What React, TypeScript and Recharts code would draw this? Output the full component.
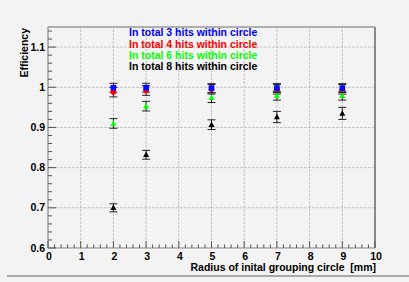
import React from 'react';
import { ScatterChart, Scatter, XAxis, YAxis, ErrorBar, ReferenceLine, Legend } from 'recharts';

// ---- data ----
const radii = [2, 3, 5, 7, 9];
const eff3 = [0.999, 0.999, 0.998, 0.998, 0.998];
const err3 = [0.011, 0.011, 0.011, 0.011, 0.011];
const eff4 = [0.988, 0.992, 0.995, 0.995, 0.995];
const err4 = [0.012, 0.012, 0.012, 0.012, 0.012];
const eff6 = [0.91, 0.953, 0.974, 0.979, 0.979];
const err6 = [0.012, 0.012, 0.012, 0.011, 0.011];
const eff8 = [0.7, 0.832, 0.907, 0.926, 0.935];
const err8 = [0.01, 0.011, 0.012, 0.014, 0.015];

const seriesNames = [
  'In total 3 hits within circle',
  'In total 4 hits within circle',
  'In total 6 hits within circle',
  'In total 8 hits within circle',
];
const seriesColors = ['#0000ff', '#ff0000', '#00ff00', '#000000'];

const xMajorTicks = [0, 1, 2, 3, 4, 5, 6, 7, 8, 9, 10];
const yMajorTicks = [0.6, 0.7, 0.8, 0.9, 1, 1.1];
const yTickLabels = ['0.6', '0.7', '0.8', '0.9', '1', '1.1'];
const xMinorStep = 0.2;
const yMinorStep = 0.02;

const build = (vals: number[], errs: number[]) =>
  radii.map((r, i) => ({ x: r, y: vals[i], err: errs[i] }));

const d3 = build(eff3, err3);
const d4 = build(eff4, err4);
const d6 = build(eff6, err6);
const d8 = build(eff8, err8);

const xTicksAll: number[] = [];
for (let i = 0; i <= 50; i++) xTicksAll.push(Math.round(i * xMinorStep * 1000) / 1000);
const yTicksAll: number[] = [];
for (let i = 0; i <= 27; i++) yTicksAll.push(Math.round((0.6 + i * yMinorStep) * 1000) / 1000);

const FONT = "'Liberation Sans', Arial, Helvetica, sans-serif";
const isMajor = (v: number, majors: number[]) => majors.some((m) => Math.abs(m - v) < 1e-6);

const XTick = (props: any) => {
  const { x, y, payload } = props;
  const v = payload.value;
  const major = isMajor(v, xMajorTicks);
  return (
    <g>
      <line x1={x} x2={x} y1={y} y2={y - (major ? 7 : 3.5)} stroke="#555" strokeWidth={1} />
      {major && (
        <text x={x + 1} y={y + 8} dy="0.35em" textAnchor="middle" fontFamily={FONT} fontWeight="bold" fontSize={10.5} fill="#000">
          {String(v)}
        </text>
      )}
    </g>
  );
};

const YTick = (props: any) => {
  const { x, y, payload } = props;
  const v = payload.value;
  const idx = yMajorTicks.findIndex((m) => Math.abs(m - v) < 1e-6);
  const major = idx >= 0;
  return (
    <g>
      <line x1={x} x2={x + (major ? 8 : 4)} y1={y} y2={y} stroke="#555" strokeWidth={1} />
      {major && (
        <text x={x - 3} y={y} dy="0.35em" textAnchor="end" fontFamily={FONT} fontWeight="bold" fontSize={10.5} fill="#000">
          {yTickLabels[idx]}
        </text>
      )}
    </g>
  );
};

const Square = (props: any) => (
  <rect x={props.cx - 2.8} y={props.cy - 2.8} width={5.6} height={5.6} fill={props.fill} />
);
const Dot = (props: any) => <circle cx={props.cx} cy={props.cy} r={2.8} fill={props.fill} />;
const Tri = (props: any) => (
  <polygon
    points={`${props.cx},${props.cy - 3.2} ${props.cx - 3},${props.cy + 2.3} ${props.cx + 3},${props.cy + 2.3}`}
    fill={props.fill}
  />
);

const LegendContent = () => (
  <div style={{ fontFamily: FONT, fontWeight: 'bold', fontSize: 10.5, lineHeight: '11.2px', whiteSpace: 'nowrap' }}>
    {seriesNames.map((n, i) => (
      <div key={n} style={{ color: seriesColors[i] }}>{n}</div>
    ))}
  </div>
);

export default function App() {
  return (
    <div style={{ position: 'fixed', left: 0, top: 0, width: 409, height: 282, background: '#f3f3f3', overflow: 'hidden' }}>
      <div style={{ position: 'absolute', left: 7, top: 275, width: 402, height: 1.5, background: '#a8a8a8' }} />
      <ScatterChart width={409} height={282} margin={{ top: 27, right: 34, bottom: 33, left: 47 }}>
        <XAxis
          type="number"
          dataKey="x"
          domain={[0, 10]}
          ticks={xTicksAll}
          interval={0}
          height={1}
          tickSize={0}
          tickMargin={0}
          tickLine={false}
          axisLine={{ stroke: '#888', strokeWidth: 1.2 }}
          tick={<XTick />}
          allowDataOverflow
          label={{
            content: (p: any) => (
              <text x={p.viewBox.x + p.viewBox.width + 1} y={p.viewBox.y + 22.5} textAnchor="end" fontFamily={FONT} fontWeight="bold" fontSize={10.5} fill="#000" style={{ whiteSpace: 'pre' }} xmlSpace="preserve">
                {'Radius of inital grouping circle  [mm]'}
              </text>
            ),
          }}
        />
        <YAxis
          type="number"
          dataKey="y"
          domain={[0.6, 1.15]}
          ticks={yTicksAll}
          interval={0}
          width={1}
          tickSize={0}
          tickMargin={0}
          tickLine={false}
          axisLine={{ stroke: '#888', strokeWidth: 1.2 }}
          tick={<YTick />}
          allowDataOverflow
          label={{
            content: (p: any) => {
              const x = p.viewBox.x - 23;
              const y = p.viewBox.y + 1;
              return (
                <text x={x} y={y} dy="0.35em" transform={`rotate(-90 ${x} ${y})`} textAnchor="end" fontFamily={FONT} fontWeight="bold" fontSize={10.5} fill="#000">
                  Efficiency
                </text>
              );
            },
          }}
        />
        {xMajorTicks.slice(1, -1).map((v) => (
          <ReferenceLine key={'gx' + v} x={v} stroke="#c4c4c4" strokeDasharray="3 1" strokeWidth={1} />
        ))}
        {yMajorTicks.slice(1).map((v) => (
          <ReferenceLine key={'gy' + v} y={v} stroke="#c4c4c4" strokeDasharray="3 1" strokeWidth={1} />
        ))}
        <ReferenceLine y={1.15} stroke="#9a9a9a" strokeWidth={1.3} />
        <ReferenceLine x={10} stroke="#8a8a8a" strokeWidth={2} />
        <Legend
          layout="horizontal"
          verticalAlign="middle"
          align="center"
          content={<LegendContent />}
          wrapperStyle={{ position: 'absolute', left: 129, top: 27.4, width: 'auto' }}
        />
        <Scatter name={seriesNames[3]} data={d8} fill={seriesColors[3]} shape={<Tri />} isAnimationActive={false}>
          <ErrorBar dataKey="err" direction="y" width={4} stroke="#222" strokeWidth={1} />
        </Scatter>
        <Scatter name={seriesNames[2]} data={d6} fill={seriesColors[2]} shape={<Tri />} isAnimationActive={false}>
          <ErrorBar dataKey="err" direction="y" width={4} stroke="#222" strokeWidth={1} />
        </Scatter>
        <Scatter name={seriesNames[1]} data={d4} fill={seriesColors[1]} shape={<Dot />} isAnimationActive={false}>
          <ErrorBar dataKey="err" direction="y" width={4} stroke="#222" strokeWidth={1} />
        </Scatter>
        <Scatter name={seriesNames[0]} data={d3} fill={seriesColors[0]} shape={<Square />} isAnimationActive={false}>
          <ErrorBar dataKey="err" direction="y" width={4} stroke="#222" strokeWidth={1} />
        </Scatter>
      </ScatterChart>
    </div>
  );
}
